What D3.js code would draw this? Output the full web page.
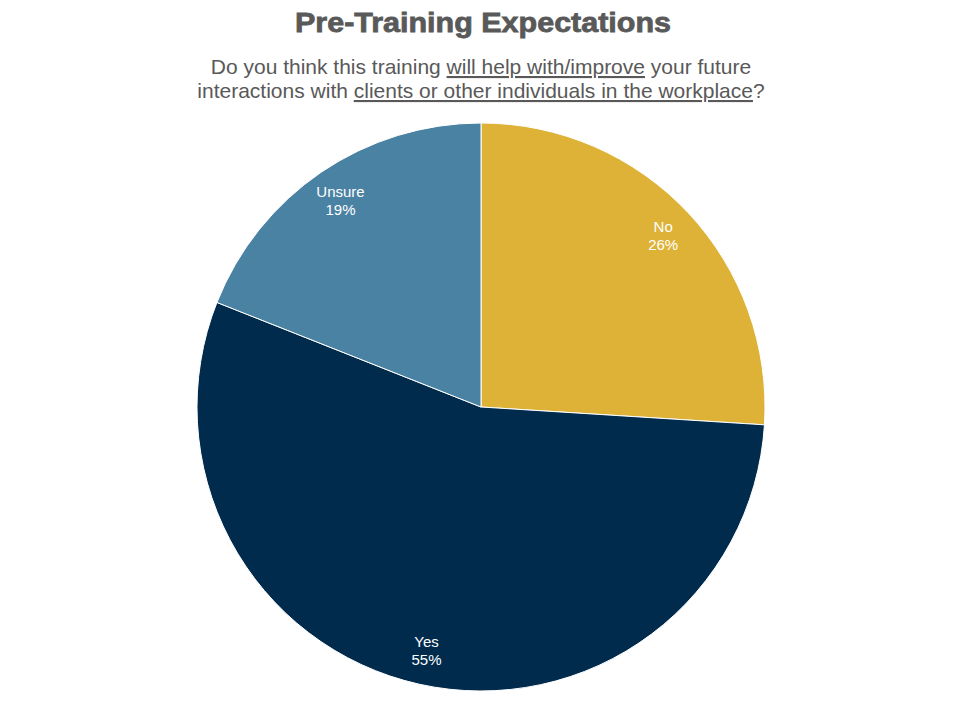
<!DOCTYPE html>
<html lang="en">
<head>
<meta charset="utf-8">
<title>Pre-Training Expectations</title>
<script src="https://cdnjs.cloudflare.com/ajax/libs/d3/7.8.5/d3.min.js"></script>
<style>
    body { margin: 0; background: #fff; }
    svg { font-family: "Liberation Sans", Arial, sans-serif; }
    .title { font-size: 28px; font-weight: bold; fill: #595959; stroke: #595959; stroke-width: 0.8px; }
    .subtitle { font-size: 21px; fill: #595959; }
    .lbl { font-size: 15px; fill: #fff; }
</style>
</head>
<body>
<div id="chart"></div>
<script>
    // data
    var categories = ["No", "Yes", "Unsure"];
    var percents = [26, 55, 19];
    var colors = ["#DDB236", "#002B4D", "#4A82A3"];

    var width = 960, height = 720;
    var cx = 481, cy = 407, radius = 284;

    var svg = d3.select("#chart").append("svg")
        .attr("width", width)
        .attr("height", height);

    svg.append("text")
        .attr("class", "title")
        .attr("x", 483).attr("y", 32)
        .attr("text-anchor", "middle")
        .attr("textLength", 376)
        .attr("lengthAdjust", "spacingAndGlyphs")
        .text("Pre-Training Expectations");

    var sub = svg.append("text")
        .attr("class", "subtitle")
        .attr("text-anchor", "middle");
    var line1 = sub.append("tspan").attr("x", 481).attr("y", 74);
    line1.append("tspan").text("Do you think this training ");
    line1.append("tspan").style("text-decoration", "underline").text("will help with/improve");
    line1.append("tspan").text("  your future");
    var line2 = sub.append("tspan").attr("x", 481).attr("y", 98);
    line2.append("tspan").text("interactions with ");
    line2.append("tspan").style("text-decoration", "underline").text("clients or other individuals in the workplace");
    line2.append("tspan").text("?");

    var data = categories.map(function(c, i) { return { name: c, value: percents[i] }; });

    var pie = d3.pie().sort(null).value(function(d) { return d.value; });
    var arc = d3.arc().innerRadius(0).outerRadius(radius);
    var labelArc = d3.arc().innerRadius(radius * 0.88).outerRadius(radius * 0.88);
    var color = d3.scaleOrdinal().domain(categories).range(colors);

    var g = svg.append("g").attr("transform", "translate(" + cx + "," + cy + ")");

    var slices = g.selectAll("g.slice")
        .data(pie(data))
        .enter().append("g")
        .attr("class", "slice");

    slices.append("path")
        .attr("d", arc)
        .attr("fill", function(d) { return color(d.data.name); })
        .attr("stroke", "#fff")
        .attr("stroke-width", 1);

    var labels = slices.append("text")
        .attr("class", "lbl")
        .attr("text-anchor", "middle")
        .attr("transform", function(d) { return "translate(" + labelArc.centroid(d) + ")"; });
    labels.append("tspan").attr("x", 0).attr("dy", "-0.25em").text(function(d) { return d.data.name; });
    labels.append("tspan").attr("x", 0).attr("dy", "1.2em").text(function(d) { return d.data.value + "%"; });
</script>
</body>
</html>
